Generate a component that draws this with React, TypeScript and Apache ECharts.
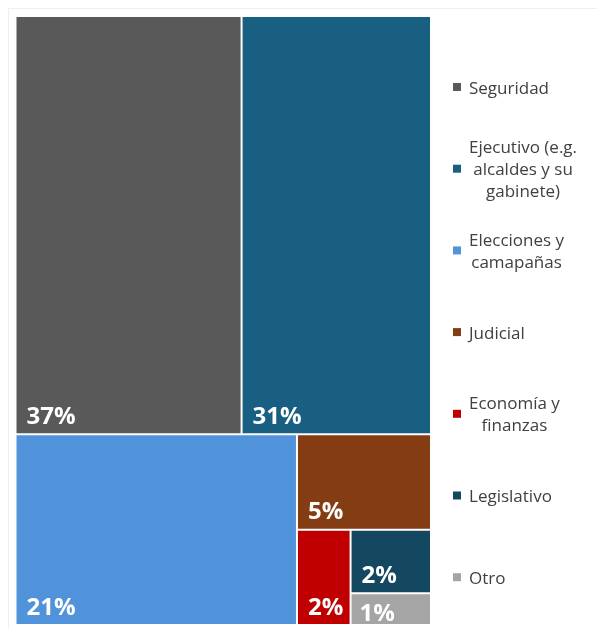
import React, { useEffect, useRef } from 'react';
import * as echarts from 'echarts';

// ---- data ----
const categories = [
  'Seguridad',
  'Ejecutivo (e.g. alcaldes y su gabinete)',
  'Elecciones y camapañas',
  'Judicial',
  'Economía y finanzas',
  'Legislativo',
  'Otro',
];
const legendLabels = [
  'Seguridad',
  'Ejecutivo (e.g.\nalcaldes y su\ngabinete)',
  'Elecciones y\ncamapañas',
  'Judicial',
  'Economía y\nfinanzas',
  'Legislativo',
  'Otro',
];
const shares = [37, 31, 21, 5, 2, 2, 1];
const colors = ['#595959', '#185F81', '#5093DA', '#843C12', '#C00000', '#144760', '#A5A5A5'];

const LEGEND_FONT = '"Open Sans", "Noto Sans", sans-serif';
const LEGEND_SIZE = 17;

function measureBlock(text: string): number {
  const c = document.createElement('canvas').getContext('2d');
  if (!c) return 80;
  c.font = `${LEGEND_SIZE}px "Open Sans"`;
  return Math.max(...text.split('\n').map((l) => c.measureText(l).width));
}

export default function App() {
  const ref = useRef<HTMLDivElement>(null);
  useEffect(() => {
    if (!ref.current) return;
    const chart = echarts.init(ref.current, undefined, { renderer: 'svg' });

    const legendX = 453;
    const textLeft = 469;
    const legendTop = 87;
    const legendStep = 81.7;
    const legendGraphics: any[] = [];
    legendLabels.forEach((lab, i) => {
      const cy = legendTop + i * legendStep;
      legendGraphics.push({
        type: 'rect',
        silent: true,
        shape: { x: legendX, y: cy - 4, width: 8, height: 8 },
        style: { fill: colors[i] },
      });
      const w = measureBlock(lab);
      legendGraphics.push({
        type: 'text',
        silent: true,
        x: textLeft + w / 2,
        y: cy,
        style: {
          text: lab,
          fill: '#404040',
          font: `${LEGEND_SIZE}px ${LEGEND_FONT}`,
          fontSize: LEGEND_SIZE,
          fontFamily: LEGEND_FONT,
          textAlign: 'center',
          textVerticalAlign: 'middle',
          lineHeight: 22,
        },
      });
    });

    chart.setOption({
      animation: false,
      graphic: [
        {
          type: 'rect',
          silent: true,
          shape: { x: 8.5, y: 8.5, width: 600, height: 640 },
          style: { fill: 'none', stroke: '#efefef', lineWidth: 1 },
        },
        ...legendGraphics,
      ],
      series: [
        {
          type: 'treemap',
          left: 16.5,
          top: 17,
          width: 413.5,
          height: 607,
          squareRatio: 1.112,
          sort: false,
          roam: false,
          nodeClick: false,
          breadcrumb: { show: false },
          emphasis: { disabled: true },
          label: {
            show: true,
            position: 'insideBottomLeft',
            distance: 4,
            offset: [1, 0],
            lineHeight: 20,
            formatter: (p: any) => `${p.value}%`,
            color: '#ffffff',
            fontSize: 24,
            fontWeight: 'bold',
            fontFamily: '"Open Sans", "Noto Sans", sans-serif',
          },
          upperLabel: { show: false },
          itemStyle: { borderWidth: 0, gapWidth: 2, borderColor: '#ffffff' },
          data: categories.map((name, i) => ({
            name,
            value: shares[i],
            itemStyle: { color: colors[i] },
            label: i === categories.length - 1 ? { lineHeight: 12, distance: 2 } : undefined,
          })),
        },
      ],
    });
    return () => chart.dispose();
  }, []);
  return (
    <div
      ref={ref}
      style={{ position: 'fixed', left: 0, top: 0, width: 597, height: 628 }}
    />
  );
}
